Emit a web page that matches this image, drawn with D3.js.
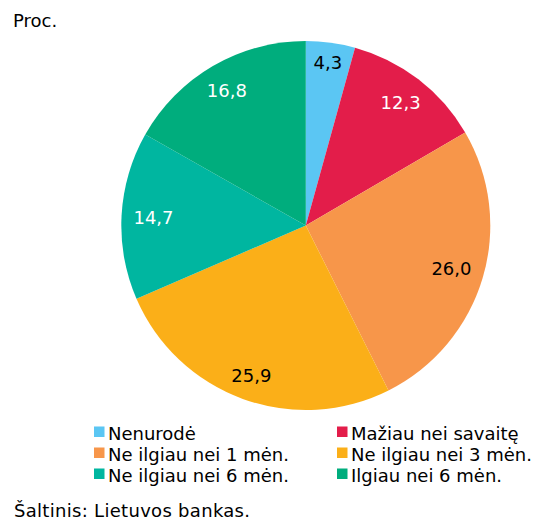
<!DOCTYPE html>
<html><head><meta charset="utf-8">
<script src="https://cdn.jsdelivr.net/npm/d3@7"></script>
<style>body{margin:0;background:#fff}svg{display:block}text{font-family:"DejaVu Sans",Verdana,sans-serif}</style>
</head><body>
<script>
const categories = ["Nenurodė","Mažiau nei savaitę","Ne ilgiau nei 1 mėn.","Ne ilgiau nei 3 mėn.","Ne ilgiau nei 6 mėn.","Ilgiau nei 6 mėn."];
const values = [4.3, 12.3, 26.0, 25.9, 14.7, 16.8];
const labels = ["4,3","12,3","26,0","25,9","14,7","16,8"];
const colors = ["#5bc6f3","#e31d4a","#f7964a","#fbaf18","#00b6a0","#00ad7d"];
const labelColors = ["#000","#fff","#000","#000","#fff","#fff"];

const W = 543, H = 525;
const svg = d3.select("body").append("svg").attr("width", W).attr("height", H);
const cx = 305.8, cy = 225.5, R = 184.5, Rlab = 173;

const pie = d3.pie().sort(null).value(d => d)(values);
const arc = d3.arc().innerRadius(0).outerRadius(R);
const g = svg.append("g").attr("transform", `translate(${cx},${cy})`);
g.selectAll("path").data(pie).join("path").attr("d", arc).attr("fill", (d,i) => colors[i]);

g.selectAll("text.lab").data(pie).join("text").attr("class","lab")
  .attr("font-size", 18).attr("text-anchor","middle").attr("dominant-baseline","central")
  .attr("fill", (d,i) => labelColors[i]).text((d,i) => labels[i])
  .each(function(d){
    const bb = this.getBBox();
    const a = (d.startAngle + d.endAngle)/2;
    const sx = Math.sin(a), sy = -Math.cos(a);
    const dx = Math.sign(sx)*bb.width/2, dy = Math.sign(sy)*13/2;
    const sd = sx*dx + sy*dy;
    const r = -sd + Math.sqrt(sd*sd - (dx*dx+dy*dy) + Rlab*Rlab);
    d3.select(this).attr("x", r*sx).attr("y", r*sy);
  });

svg.append("text").attr("x", 13).attr("y", 27).attr("font-size", 18).attr("fill","#000").text("Proc.");

const leg = svg.append("g");
const colX = [94, 337], rowBase = [440, 461, 482];
categories.forEach((c,i) => {
  const x = colX[i%2], y = rowBase[Math.floor(i/2)];
  leg.append("rect").attr("x", x).attr("y", y-13.5).attr("width", 10.5).attr("height", 10.5).attr("fill", colors[i]);
  leg.append("text").attr("x", x+14).attr("y", y).attr("font-size", 18).attr("fill","#000").text(c);
});

svg.append("text").attr("x", 14).attr("y", 517).attr("font-size", 18).attr("letter-spacing", 0.3).attr("fill","#000").text("Šaltinis: Lietuvos bankas.");
</script>
</body></html>
